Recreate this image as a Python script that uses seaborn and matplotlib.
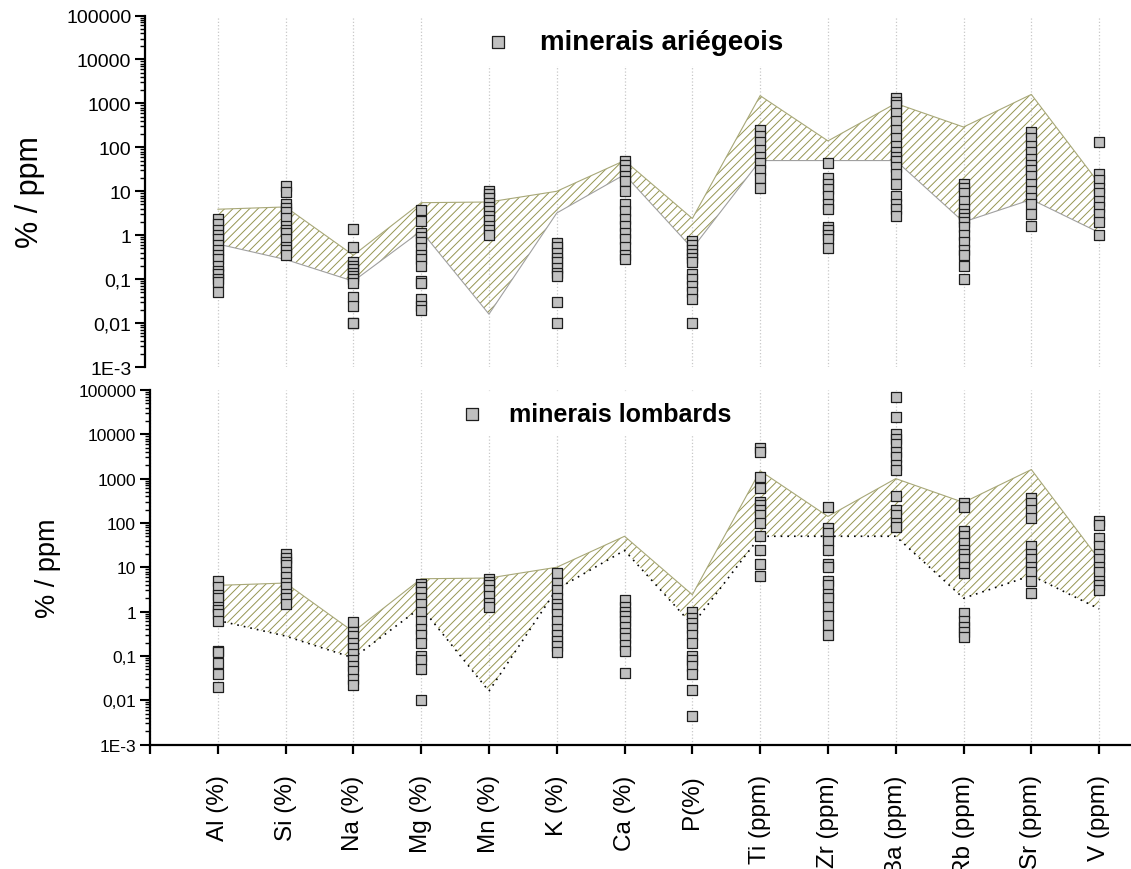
import numpy as np
import pandas as pd
import matplotlib
matplotlib.use("Agg")
import matplotlib.pyplot as plt
from matplotlib.ticker import FixedLocator, FixedFormatter, LogLocator, NullFormatter
import seaborn as sns

# ---------------- data ----------------
categories = ["Al (%)", "Si (%)", "Na (%)", "Mg (%)", "Mn (%)", "K (%)", "Ca (%)", "P(%)",
              "Ti (ppm)", "Zr (ppm)", "Ba (ppm)", "Rb (ppm)", "Sr (ppm)", "V (ppm)"]

ytick_values = [1e-3, 1e-2, 1e-1, 1, 10, 100, 1000, 10000, 100000]
ytick_labels = ["1E-3", "0,01", "0,1", "1", "10", "100", "1000", "10000", "100000"]

# reference band (same in both panels)
band_upper = [3.9, 4.4, 0.35, 5.5, 5.7, 10, 50, 2.4, 1500, 140, 1000, 290, 1600, 15]
band_lower = [0.63, 0.28, 0.09, 1.25, 0.016, 3.2, 24, 0.5, 50, 50, 50, 2.0, 6.5, 1.15]

# minerais ariégeois
ari_Al = [2.3, 1.8, 1.3, 1.0, 0.8, 0.6, 0.45, 0.35, 0.28, 0.2, 0.15, 0.13, 0.1, 0.085, 0.05]
ari_Si = [13, 9.5, 5, 4.2, 3.3, 2.5, 1.6, 1.3, 1.1, 0.8, 0.55, 0.45, 0.35]
ari_Na = [1.4, 0.55, 0.24, 0.2, 0.17, 0.14, 0.12, 0.1, 0.08, 0.04, 0.025, 0.01, 0.01]
ari_Mg = [3.8, 2.1, 1.1, 0.9, 0.7, 0.5, 0.35, 0.28, 0.2, 0.09, 0.08, 0.035, 0.025, 0.02]
ari_Mn = [10, 8.5, 7, 5.5, 4.5, 3.5, 2.8, 2.2, 1.6, 1.3, 1.0]
ari_K = [0.65, 0.55, 0.4, 0.3, 0.25, 0.18, 0.14, 0.12, 0.03, 0.01]
ari_Ca = [48, 40, 30, 22, 17, 10, 5, 3.5, 2.3, 1.6, 1.1, 0.8, 0.55, 0.35, 0.28]
ari_P = [0.72, 0.6, 0.45, 0.38, 0.3, 0.25, 0.13, 0.1, 0.07, 0.05, 0.035, 0.01]
ari_Ti = [250, 180, 130, 85, 60, 45, 30, 20, 12]
ari_Zr = [45, 20, 15, 11, 8, 5, 4, 1.5, 1.3, 1.0, 0.8, 0.52]
ari_Ba = [1300, 1100, 900, 600, 400, 250, 160, 110, 80, 60, 50, 35, 25, 15, 8, 5, 4, 2.7]
ari_Rb = [15, 12, 9, 6, 4, 3, 2.5, 2, 1.5, 1.0, 0.7, 0.45, 0.35, 0.2, 0.1]
ari_Sr = [220, 160, 110, 80, 55, 40, 30, 22, 15, 10, 7, 5, 3, 1.6]
ari_V = [130, 25, 18, 12, 9, 6, 4.5, 3, 2, 1.0]

# minerais lombards
lom_Al = [5, 3.5, 2.4, 2, 1.3, 1.1, 0.9, 0.6, 0.13, 0.12, 0.07, 0.04, 0.02]
lom_Si = [20, 16, 13, 11, 8, 6, 4.5, 3.5, 2.5, 2, 1.5]
lom_Na = [0.57, 0.35, 0.28, 0.2, 0.15, 0.11, 0.08, 0.06, 0.045, 0.03, 0.022]
lom_Mg = [4.2, 3.6, 2.8, 2.0, 1.5, 1.0, 0.6, 0.4, 0.3, 0.2, 0.1, 0.08, 0.05, 0.01]
lom_Mn = [5.3, 4.6, 4, 3, 2.2, 1.6, 1.3]
lom_K = [7.5, 4.5, 3, 2, 1.5, 1.2, 0.9, 0.6, 0.4, 0.3, 0.22, 0.17, 0.12]
lom_Ca = [1.8, 1.3, 1.0, 0.8, 0.6, 0.45, 0.32, 0.25, 0.18, 0.13, 0.042]
lom_P = [1.0, 0.7, 0.55, 0.42, 0.3, 0.2, 0.1, 0.08, 0.06, 0.04, 0.017, 0.0045]
lom_Ti = [5000, 4000, 1100, 600, 300, 250, 200, 150, 100, 50, 25, 12, 6.5]
lom_Zr = [230, 75, 60, 40, 25, 12, 10, 5, 4, 2.5, 2, 1.3, 0.8, 0.5, 0.3]
lom_Ba = [70000, 24000, 10000, 8000, 6000, 4000, 3000, 2000, 1600, 400, 200, 150, 100, 80]
lom_Rb = [280, 230, 65, 50, 35, 25, 20, 15, 10, 7.5, 0.95, 0.6, 0.45, 0.35, 0.26]
lom_Sr = [370, 280, 200, 130, 30, 20, 15, 10, 8, 5, 2.6]
lom_V = [110, 90, 45, 30, 20, 15, 10, 8, 5, 4, 3]

ariege = [ari_Al, ari_Si, ari_Na, ari_Mg, ari_Mn, ari_K, ari_Ca, ari_P,
          ari_Ti, ari_Zr, ari_Ba, ari_Rb, ari_Sr, ari_V]
lombard = [lom_Al, lom_Si, lom_Na, lom_Mg, lom_Mn, lom_K, lom_Ca, lom_P,
           lom_Ti, lom_Zr, lom_Ba, lom_Rb, lom_Sr, lom_V]


def to_long(groups):
    rows = []
    for cat, vals in zip(categories, groups):
        for v in vals:
            rows.append({"element": cat, "value": v})
    df = pd.DataFrame(rows)
    df["pos"] = df["element"].map({c: i for i, c in enumerate(categories)})
    return df


df_ari = to_long(ariege)
df_lom = to_long(lombard)
band = pd.DataFrame({"pos": np.arange(len(categories)), "upper": band_upper, "lower": band_lower})

# ---------------- style ----------------
sns.set_style("white")
plt.rcParams["font.family"] = ["Liberation Sans", "DejaVu Sans"]
plt.rcParams["hatch.linewidth"] = 0.7
for k in ["text.color", "axes.labelcolor", "xtick.color", "ytick.color"]:
    plt.rcParams[k] = "black"

fig = plt.figure(figsize=(11.31, 8.70), dpi=100)
ax1 = fig.add_axes([0.1284, 0.577, 0.8716, 0.404])
ax2 = fig.add_axes([0.1326, 0.1431, 0.8674, 0.4075])

hatch_col = "#959550"
marker_face = "#c0c0c0"
marker_edge = "#1e1e1e"


def draw_panel(ax, df, label, lower_style, tick_fs, legend_fs, legend_anchor, x_left):
    ax.set_yscale("log")
    # band
    ax.fill_between(band["pos"], band["lower"], band["upper"], facecolor="none",
                    edgecolor=hatch_col, hatch="////", linewidth=0, zorder=1)
    ax.plot(band["pos"], band["upper"], color="#a8a878", lw=0.8, zorder=1.5)
    ax.plot(band["pos"], band["lower"], **lower_style, zorder=1.5)
    # points
    sns.scatterplot(data=df, x="pos", y="value", marker="s", s=42, color=marker_face,
                    edgecolor=marker_edge, linewidth=0.9, ax=ax, zorder=3, label=label,
                    legend=False)
    ax.set_ylim(1e-3, 1e5)
    ax.set_xlim(x_left, 13.47)
    ax.yaxis.set_major_locator(FixedLocator(ytick_values))
    ax.yaxis.set_major_formatter(FixedFormatter(ytick_labels))
    ax.yaxis.set_minor_locator(LogLocator(base=10, subs=range(2, 10), numticks=30))
    ax.yaxis.set_minor_formatter(NullFormatter())
    ax.tick_params(axis="y", which="both", left=True, right=False)
    ax.tick_params(axis="y", which="major", direction="out", length=7, width=1.5,
                   labelsize=tick_fs, pad=3, colors="black")
    ax.tick_params(axis="y", which="minor", direction="out", length=3.5, width=1.0,
                   colors="black")
    for s in ["top", "right"]:
        ax.spines[s].set_visible(False)
    ax.spines["left"].set_linewidth(1.6)
    ax.spines["left"].set_color("black")
    ax.grid(False)
    ax.set_xlabel("")
    leg = ax.legend(handles=ax.collections[-1:], labels=[label],
                    loc="center left", bbox_to_anchor=legend_anchor,
                    bbox_transform=fig.transFigure,
                    prop={"weight": "bold", "size": legend_fs},
                    frameon=True, facecolor="white", edgecolor="none", framealpha=1,
                    handlelength=1.0, handletextpad=1.0, borderpad=0.4,
                    borderaxespad=0, markerscale=1.3, labelcolor="black")
    leg.set_zorder(5)
    return ax


# top panel
draw_panel(ax1, df_ari, "minerais ariégeois",
           dict(color="#a0a0a0", lw=0.8, ls="-"), 14, 20,
           (473 / 1131, 1 - 43 / 870), -1.07)
ax1.set_xticks(np.arange(len(categories)))
ax1.set_xticklabels([])
ax1.tick_params(axis="x", length=0)
ax1.spines["bottom"].set_visible(False)
ax1.grid(axis="x", color="#c8c8c8", linestyle=":", linewidth=0.9, zorder=0)
ax1.set_ylabel("% / ppm", fontsize=22, va="center")
ax1.yaxis.set_label_coords(-0.117, 0.5)

# bottom panel
draw_panel(ax2, df_lom, "minerais lombards",
           dict(color="black", lw=1.2, ls=(0, (1, 3))), 12.5, 18,
           (449 / 1131, 1 - 415 / 870), -1.0)
ax2.set_xticks(np.arange(-1, len(categories)))
ax2.set_xticklabels([""] + categories, rotation=90, fontsize=17.5)
ax2.tick_params(axis="x", which="major", bottom=True, direction="out", length=6.5,
                width=1.6, pad=15, colors="black")
ax2.spines["bottom"].set_linewidth(1.6)
ax2.spines["bottom"].set_color("black")
ax2.grid(axis="x", color="#c8c8c8", linestyle=":", linewidth=0.9, zorder=0)
ax2.set_ylabel("% / ppm", fontsize=19.5, va="center")
ax2.yaxis.set_label_coords(-0.104, 0.5)

fig.savefig("out.png", dpi=100)
